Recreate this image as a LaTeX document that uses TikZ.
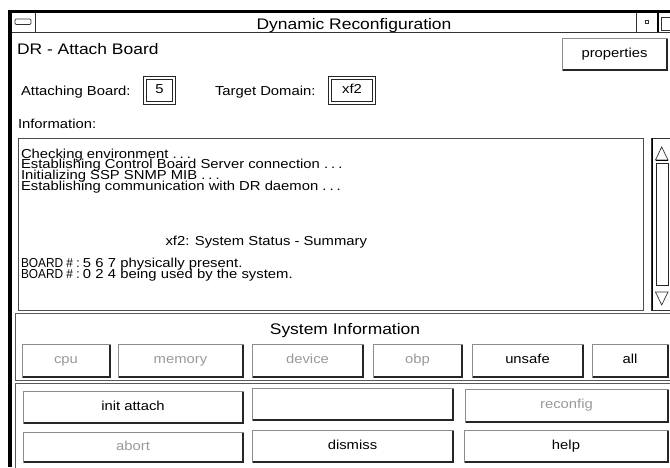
\documentclass[tikz,border=0pt]{standalone}
\usepackage{fontspec}
\usepackage{graphicx}
\setmainfont{Liberation Sans}[FakeStretch=1.14]
\begin{document}
\begin{tikzpicture}[x=1pt,y=-1pt,
  txt/.style={font={\fontsize{13}{10.9}\selectfont\lineskiplimit=-20pt}, inner sep=0pt, outer sep=0pt},
  big/.style={font=\fontsize{15.3}{17}\selectfont, inner sep=0pt, outer sep=0pt},
  btn/.style={draw=black!45, line width=0.7pt, anchor=north west, inner sep=0pt, outer sep=0pt,
    text height=9.3pt, text depth=2.6pt, font=\fontsize{13}{11}\selectfont},
  off/.style={text=black!40},
  shade/.style={draw=black!85, line width=1.2pt},
  thin/.style={draw=black!65, line width=0.7pt},
  valbox/.style={draw=black!85, line width=0.7pt, double, double distance=2.6pt, inner sep=0pt,
    text height=9.3pt, text depth=2.6pt, font=\fontsize{13}{11}\selectfont}]
\useasboundingbox (0,0) rectangle (670,467);
\clip (0,0) rectangle (670,467);
% window frame
\fill[black] (8,10) rectangle (672,13);
\fill[black] (8,10) rectangle (12,467);
\draw[thin, draw=black!80] (12,32) -- (672,32);
\draw[thin, draw=black!80] (35,13) -- (35,32);
\draw[thin, draw=black!80, rounded corners=1.2pt] (15,19) rectangle (31,24.5);
\draw[thin, draw=black!80] (636,13) -- (636,32);
\draw[draw=black!80, line width=0.6pt] (645.5,20.5) rectangle (648.5,23.5);
\draw[black, line width=1.6pt] (657.8,13) -- (657.8,32);
\draw[thin, draw=black!80] (661,17) rectangle (674,30);
\node[big, anchor=base] (title) at (354,29) {Dynamic Reconfiguration};
% header
\node[big, anchor=base west] (hdr) at (17,54) {DR - Attach Board};
\node[btn, minimum width=105pt, minimum height=32pt] (props) at (562,38) {properties};
\node[txt, anchor=base west] (ablab) at (21,95) {Attaching Board:};
\node[valbox, minimum width=29pt, minimum height=25pt] (abval) at (159.5,90.5) {5};
\node[txt, anchor=base west] (tdlab) at (215,95) {Target Domain:};
\node[valbox, minimum width=44pt, minimum height=25pt] (tdval) at (352,90.5) {xf2};
\node[txt, anchor=base west] (infolab) at (18,128) {Information:};
% information area
\node[draw=black!70, line width=0.7pt, anchor=north west, minimum width=625pt, minimum height=172pt, inner sep=0pt] (info) at (18,138) {};
\node[txt, anchor=north west, align=left] (log) at (21,148.6) {Checking environment .\hspace{3pt}.\hspace{3pt}.\\
Establishing Control Board Server connection .\hspace{3pt}.\hspace{3pt}.\\
Initializing SSP SNMP MIB .\hspace{3pt}.\hspace{3pt}.\\
Establishing communication with DR daemon .\hspace{3pt}.\hspace{3pt}.};
\node[txt, anchor=base west] (summary) at (165,245) {\hspace{0.5pt}xf2: System Status - Summary};
\node[txt, anchor=north west, align=left] (boards) at (21,257.7) {\makebox[62pt][l]{\scalebox{0.8}[1]{BOARD \# :}}\makebox[12.5pt][l]{5}\makebox[12.5pt][l]{6}\makebox[12.5pt][l]{7}physically present.\\
\makebox[62pt][l]{\scalebox{0.8}[1]{BOARD \# :}}\makebox[12.5pt][l]{0}\makebox[12.5pt][l]{2}\makebox[12.5pt][l]{4}being used by the system.};
% scrollbar
\draw[thin, draw=black!80] (651,138) rectangle (674,310);
\draw[black, line width=1.3pt] (652.3,138) -- (652.3,310);
\draw[thin, draw=black!80] (655.5,160) -- (661.7,147) -- (668,160) -- cycle;
\draw[black, line width=1pt] (655.5,160.5) -- (668,160.5);
\draw[thin, draw=black!85] (656,163) rectangle (668,285);
\draw[thin, draw=black!80] (655.5,292) -- (661.7,305) -- (668,292) -- cycle;
% panels
\draw[thin] (15,313) rectangle (676,380);
\draw[thin] (15,383) rectangle (676,472);
\node[big, anchor=base] (sysinfo) at (345,334) {System Information};
% buttons
\node[btn, off, minimum width=88pt, minimum height=33pt] (cpu) at (22,344) {cpu};
\node[btn, off, minimum width=125pt, minimum height=33pt] (memory) at (118,344) {memory};
\node[btn, off, minimum width=111pt, minimum height=33pt] (device) at (252,344) {device};
\node[btn, off, minimum width=89pt, minimum height=33pt] (obp) at (373,344) {obp};
\node[btn, minimum width=111pt, minimum height=33pt] (unsafe) at (472,344) {unsafe};
\node[btn, minimum width=76pt, minimum height=33pt] (all) at (592,344) {all};
\node[btn, minimum width=220pt, minimum height=32pt] (init) at (23,391) {init attach};
\node[btn, minimum width=201pt, minimum height=32pt] (blank) at (252,388) {};
\node[btn, off, minimum width=203pt, minimum height=33pt] (reconfig) at (465,389) {reconfig};
\node[btn, off, minimum width=220pt, minimum height=30pt] (abort) at (23,432) {abort};
\node[btn, minimum width=201pt, minimum height=32pt] (dismiss) at (252,430) {dismiss};
\node[btn, minimum width=204pt, minimum height=32pt] (help) at (464,430) {help};
\foreach \b in {props,cpu,memory,device,obp,unsafe,all,init,blank,reconfig,abort,dismiss,help}
  \draw[shade] ([xshift=1pt]\b.south west) -| ([yshift=-1pt]\b.north east);
\end{tikzpicture}
\end{document}
